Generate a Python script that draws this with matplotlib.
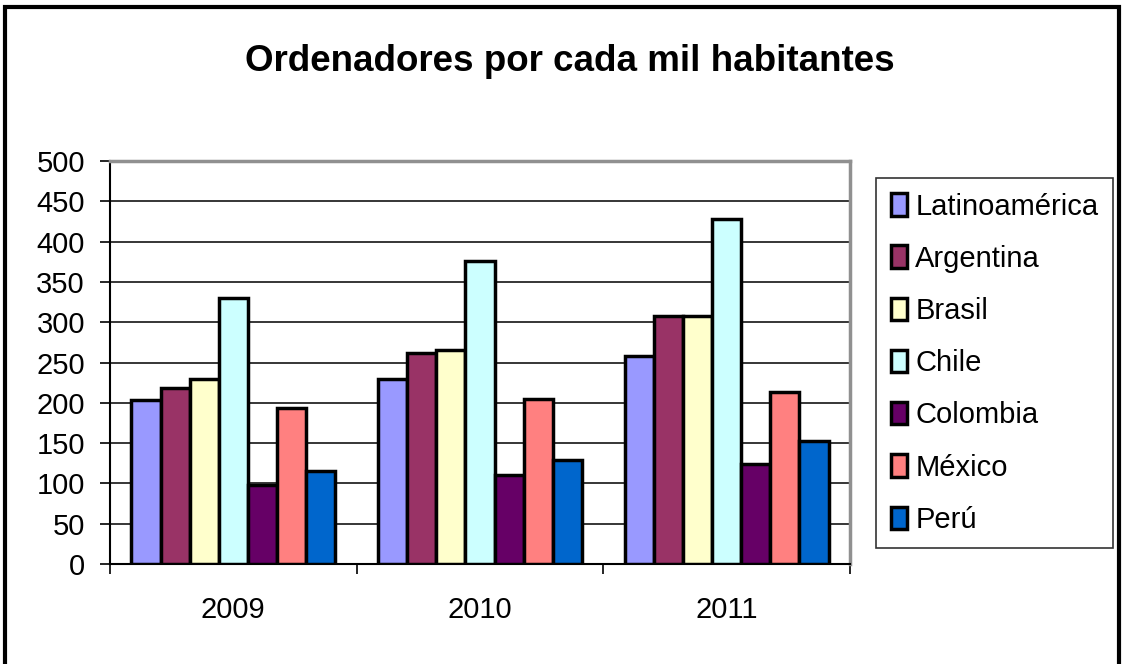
import matplotlib.pyplot as plt
import numpy as np
from matplotlib.patches import Rectangle

plt.rcParams['font.family'] = ['Liberation Sans', 'DejaVu Sans']

years = ['2009', '2010', '2011']
countries = ['Latinoamérica', 'Argentina', 'Brasil', 'Chile', 'Colombia', 'México', 'Perú']
latinoamerica = [204, 230, 258]
argentina = [218, 262, 308]
brasil = [230, 265, 308]
chile = [330, 376, 428]
colombia = [98, 111, 124]
mexico = [193, 205, 214]
peru = [116, 129, 153]
colors = ['#9999FF', '#993366', '#FFFFCC', '#CCFFFF', '#660066', '#FF8080', '#0066CC']
y_ticks = list(range(0, 501, 50))


def run():
    series = [latinoamerica, argentina, brasil, chile, colombia, mexico, peru]
    fig = plt.figure(figsize=(11.22, 6.64), dpi=100)
    ax = fig.add_axes([0.098, 0.1506, 0.6596, 0.6069])

    # outer chart border (bottom cut off in the reference)
    fig.patches.append(Rectangle((5 / 1122, -0.05), 1114 / 1122, 1.05 - 7 / 664,
                                 transform=fig.transFigure, fill=False,
                                 edgecolor='black', linewidth=3))

    x = np.arange(len(years))
    width = 0.118
    for i, (vals, name, col) in enumerate(zip(series, countries, colors)):
        offset = (i - 3) * width
        ax.bar(x + offset, vals, width, color=col, edgecolor='black',
               linewidth=2.5, label=name, zorder=3)

    ax.set_xlim(-0.5, 2.5)
    ax.set_ylim(0, 500)
    ax.set_yticks(y_ticks)
    ax.yaxis.grid(True, color='black', linewidth=1.1, zorder=0)
    ax.set_axisbelow(True)

    ax.set_xticks(x)
    ax.set_xticklabels(years)
    ax.set_xticks([-0.5, 0.5, 1.5, 2.5], minor=True)
    ax.tick_params(axis='x', which='major', length=0, pad=23, labelsize=21)
    ax.tick_params(axis='x', which='minor', length=7, width=1.2, direction='out')
    ax.tick_params(axis='y', length=7, width=1.2, pad=11, labelsize=21)

    for side in ['top', 'right']:
        ax.spines[side].set_color('#909090')
        ax.spines[side].set_linewidth(2.5)
    for side in ['left', 'bottom']:
        ax.spines[side].set_color('black')
        ax.spines[side].set_linewidth(1.5)

    fig.text(0.508, 0.907, 'Ordenadores por cada mil habitantes', ha='center',
             va='center', fontsize=26.5, fontweight='bold')

    leg = fig.legend(loc='upper left', bbox_to_anchor=(876 / 1122, 1 - 178 / 664),
                     fontsize=21, frameon=True, fancybox=False, edgecolor='black',
                     handlelength=0.55, handleheight=0.8, handletextpad=0.3,
                     labelspacing=0.83, borderpad=0.5, borderaxespad=0)
    leg.get_frame().set_linewidth(1.2)
    for h in leg.legend_handles:
        h.set_linewidth(2.5)

    fig.savefig('out.png', dpi=100)


if __name__ == '__main__':
    run()
